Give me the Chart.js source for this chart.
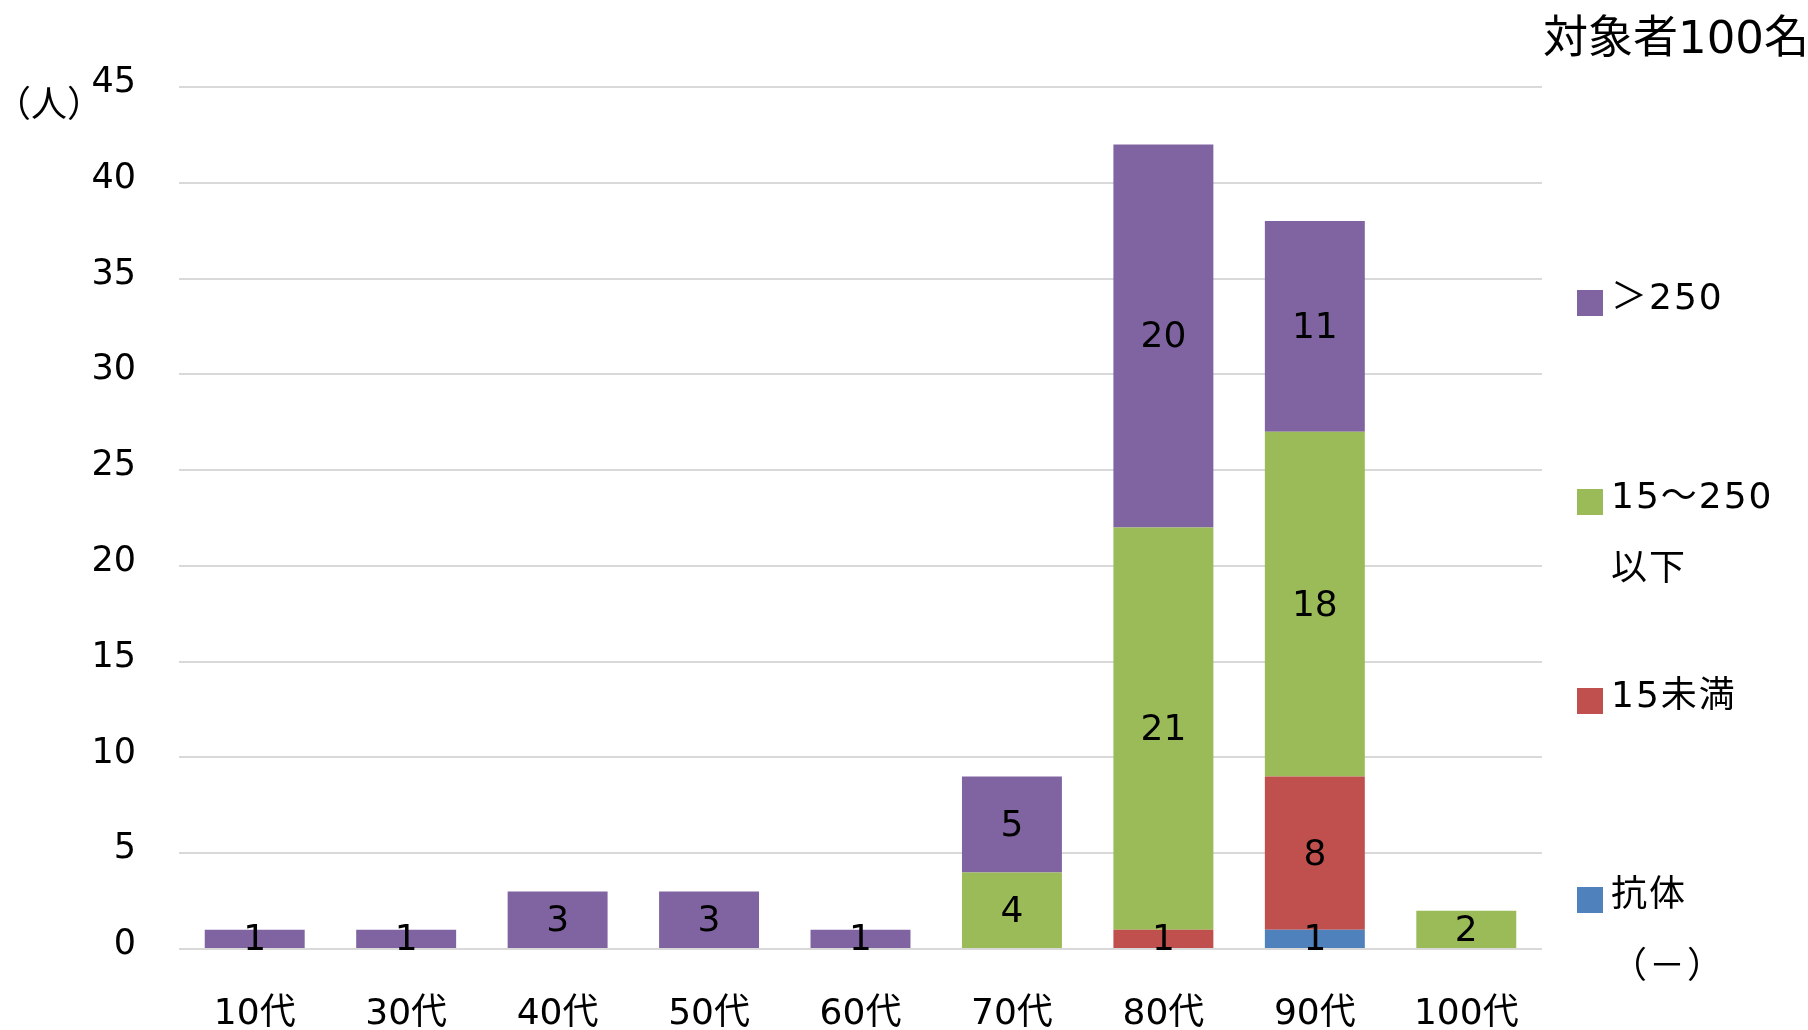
<!DOCTYPE html>
<html>
<head>
<meta charset="utf-8">
<script src="https://cdn.jsdelivr.net/npm/chart.js@4.4.1/dist/chart.umd.min.js"></script>
<style>
  html, body { margin: 0; padding: 0; background: #fff; }
  canvas { display: block; }
</style>
</head>
<body>
<canvas id="myChart1" width="1808" height="1030"></canvas>
<script>
const FONT = '"DejaVu Sans", "Noto Sans CJK JP", sans-serif';

// categories
const ages = ["10代", "30代", "40代", "50代", "60代", "70代", "80代", "90代", "100代"];

// series values (stacked from bottom)
const antibodyNeg = [0, 0, 0, 0, 0, 0, 0, 1, 0];
const under15 = [0, 0, 0, 0, 0, 0, 1, 8, 0];
const from15to250 = [0, 0, 0, 0, 0, 4, 21, 18, 2];
const over250 = [1, 1, 3, 3, 1, 5, 20, 11, 0];

// legend names (one entry per line)
const antibodyName = ["抗体", "（－）"];
const under15Name = ["15未満"];
const from15Name = ["15～250", "以下"];
const over250Name = ["＞250"];

// y tick labels
const yMax = 45;
const yStep = 5;

const titleText = "対象者100名";
const unitText = "（人）";

// values in the middle of each segment
const valueLabels = {
    id: 'valueLabels',
    afterDatasetsDraw(chart) {
        const c = chart.ctx;
        c.save();
        c.font = '36px ' + FONT;
        c.fillStyle = '#000';
        c.textAlign = 'center';
        c.textBaseline = 'middle';
        chart.data.datasets.forEach((ds, i) => {
            const meta = chart.getDatasetMeta(i);
            meta.data.forEach((bar, j) => {
                const v = ds.data[j];
                if (!v) return;
                c.fillText(String(v), bar.x, (bar.y + bar.base) / 2 + 2);
            });
        });
        c.restore();
    }
};

// legend on the right, title and unit label
const sideText = {
    id: 'sideText',
    afterDraw(chart) {
        const c = chart.ctx;
        c.save();
        c.fillStyle = '#000';
        c.textBaseline = 'middle';
        c.textAlign = 'left';

        c.font = '45px ' + FONT;
        c.fillText(titleText, 1543, 41);

        c.font = '36px ' + FONT;
        c.fillText(unitText, -5, 108);

        c.font = '36px ' + FONT;
        c.letterSpacing = '2px';
        const order = chart.data.datasets.map((d, i) => i).reverse();
        order.forEach((i, k) => {
            const ds = chart.data.datasets[i];
            const cy = 302 + k * 199;
            c.fillStyle = ds.backgroundColor;
            c.fillRect(1577, cy - 12, 26, 26);
            c.fillStyle = '#000';
            ds.label.forEach((line, n) => {
                c.fillText(line, 1611, cy - 2 + n * 72);
            });
        });
        c.restore();
    }
};

const ctx = document.getElementById('myChart1').getContext('2d');
const myChart = new Chart(ctx, {
    type: 'bar',
    data: {
        labels: ages,
        datasets: [{
            label: antibodyName,
            data: antibodyNeg,
            backgroundColor: '#4F81BD'
        }, {
            label: under15Name,
            data: under15,
            backgroundColor: '#C0504D'
        }, {
            label: from15Name,
            data: from15to250,
            backgroundColor: '#9BBB59'
        }, {
            label: over250Name,
            data: over250,
            backgroundColor: '#8064A2'
        }]
    },
    options: {
        responsive: false,
        animation: false,
        layout: {
            padding: { top: 87, right: 266, left: 0, bottom: 0 }
        },
        datasets: {
            bar: {
                categoryPercentage: 1,
                barPercentage: 0.66
            }
        },
        plugins: {
            legend: { display: false },
            tooltip: { enabled: false }
        },
        scales: {
            x: {
                stacked: true,
                grid: { display: false },
                border: { display: false },
                ticks: {
                    color: '#000',
                    font: { family: FONT, size: 36 },
                    padding: 36,
                    maxRotation: 0
                },
                afterFit(scale) { scale.height = 81; }
            },
            y: {
                stacked: true,
                min: 0,
                max: yMax,
                grid: { color: '#d9d9d9', lineWidth: 2, drawTicks: false },
                border: { display: false },
                ticks: {
                    stepSize: yStep,
                    color: '#000',
                    font: { family: FONT, size: 35 },
                    padding: 43,
                    labelOffset: -4
                },
                afterFit(scale) { scale.width = 179; }
            }
        }
    },
    plugins: [valueLabels, sideText]
});
</script>
</body>
</html>
